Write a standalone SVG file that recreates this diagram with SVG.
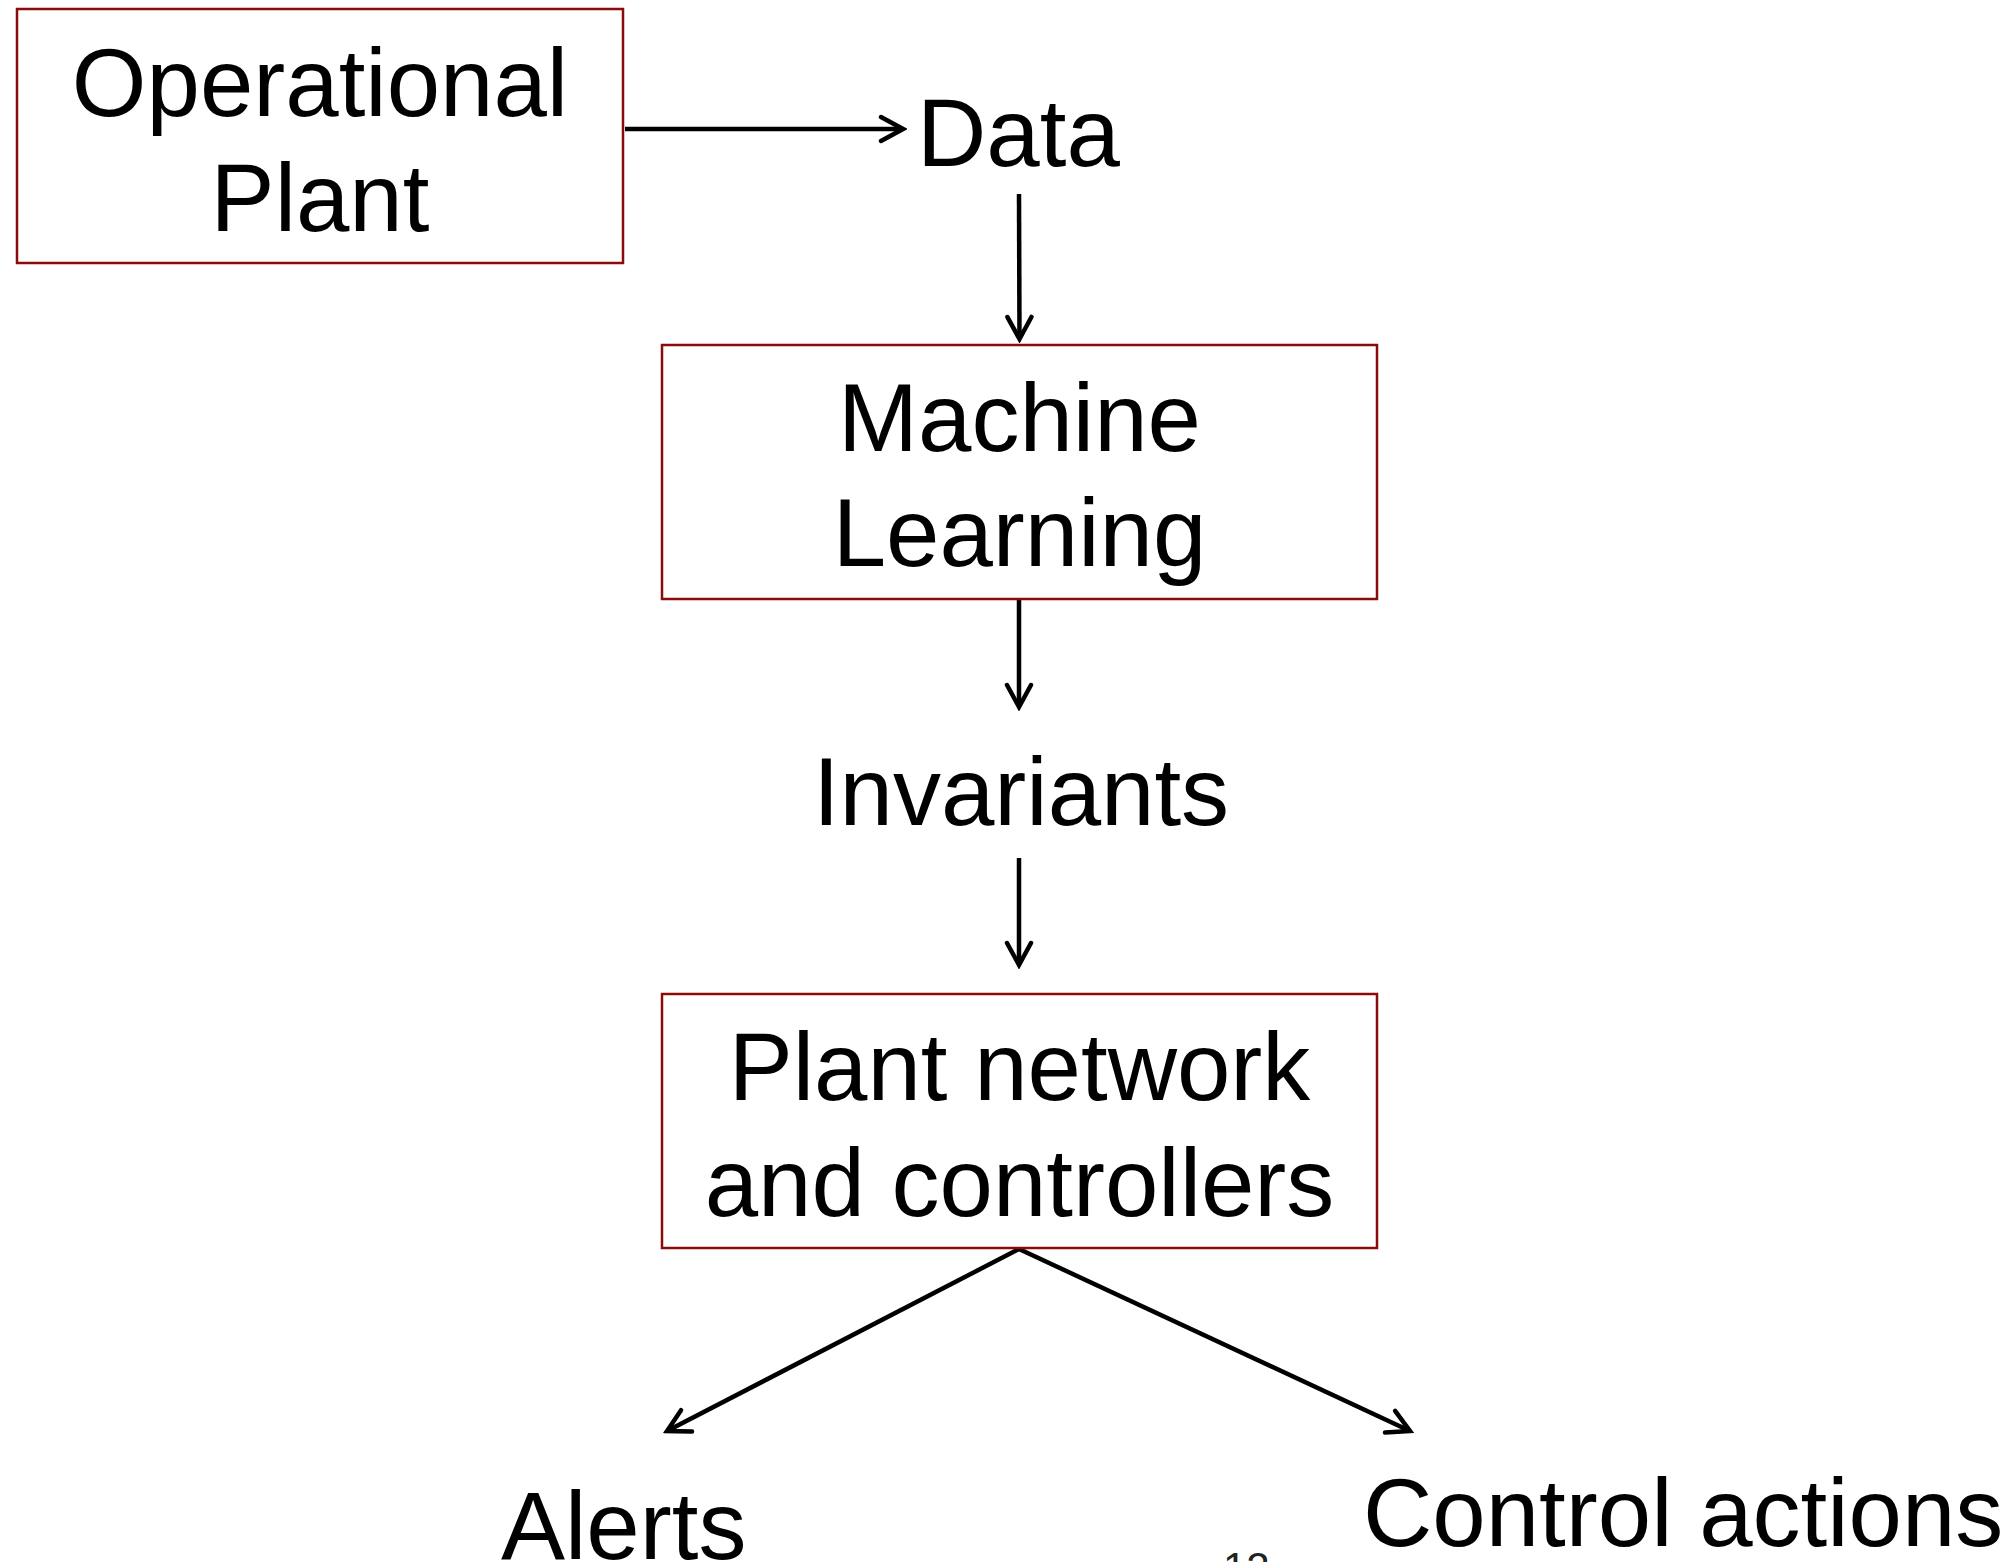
<svg xmlns="http://www.w3.org/2000/svg" width="2015" height="1562" viewBox="0 0 2015 1562">
<style>
.box{fill:#fff;stroke:#8B0A0A;stroke-width:2.5}
.t{font-family:"Liberation Sans",Arial,sans-serif;font-size:96px;fill:#000}
.c{text-anchor:middle}
.conn{stroke:#000;stroke-width:4.5;fill:none}
.pg{font-family:"Liberation Sans",Arial,sans-serif;font-size:42px;fill:#222}
</style>
<defs>
<marker id="ah" markerUnits="userSpaceOnUse" viewBox="-28 -18 32 36" markerWidth="32" markerHeight="36" refX="0" refY="0" orient="auto">
<path d="M -22 -12 L 0 0 L -22 12" fill="none" stroke="#000" stroke-width="4.5" stroke-linecap="round" stroke-linejoin="miter"/>
</marker>
</defs>
<rect width="2015" height="1562" fill="#fff"/>
<g id="connectors">
<line class="conn" x1="625" y1="129" x2="903" y2="129" marker-end="url(#ah)"/>
<line class="conn" x1="1019" y1="194" x2="1019.5" y2="339" marker-end="url(#ah)"/>
<line class="conn" x1="1019" y1="600" x2="1019" y2="707" marker-end="url(#ah)"/>
<line class="conn" x1="1019" y1="858" x2="1019" y2="965" marker-end="url(#ah)"/>
<line class="conn" x1="1019" y1="1249" x2="667" y2="1431" marker-end="url(#ah)"/>
<line class="conn" x1="1019" y1="1249" x2="1410" y2="1431" marker-end="url(#ah)"/>
</g>
<g id="operational-plant">
<rect class="box" x="17" y="9" width="606" height="254"/>
<text class="t c" x="320" y="116">Operational</text>
<text class="t c" x="320" y="231">Plant</text>
</g>
<g id="data">
<text class="t" x="917" y="166">Data</text>
</g>
<g id="machine-learning">
<rect class="box" x="662" y="345" width="715" height="254"/>
<text class="t c" x="1019.5" y="451">Machine</text>
<text class="t c" x="1019.5" y="566">Learning</text>
</g>
<g id="invariants">
<text class="t c" x="1021" y="825">Invariants</text>
</g>
<g id="plant-network">
<rect class="box" x="662" y="994" width="715" height="254"/>
<text class="t c" x="1019.5" y="1100">Plant network</text>
<text class="t c" x="1019.5" y="1216">and controllers</text>
</g>
<g id="alerts">
<text class="t" x="501" y="1559">Alerts</text>
</g>
<g id="control-actions">
<text class="t" x="1363" y="1546">Control actions</text>
</g>
<text class="pg" x="1223" y="1582">12</text>
</svg>
